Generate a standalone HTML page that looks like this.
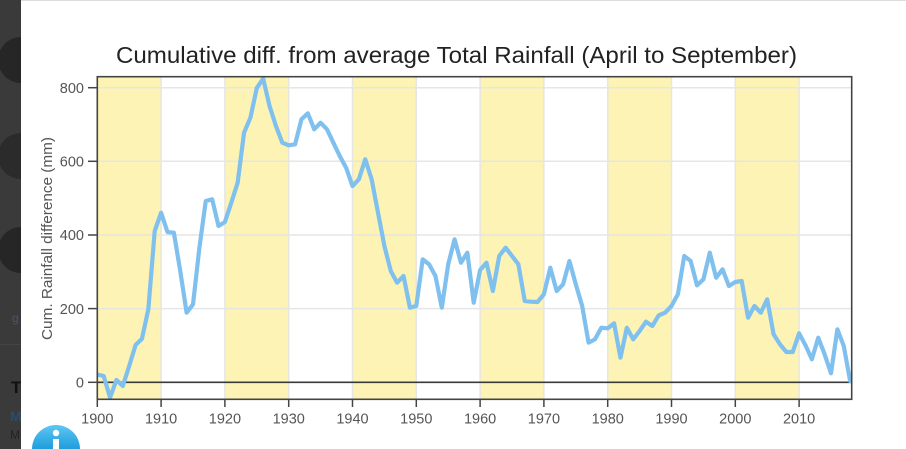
<!DOCTYPE html>
<html>
<head>
<meta charset="utf-8">
<style>
html,body{margin:0;padding:0;background:#fff;width:906px;height:449px;overflow:hidden;}
body{position:relative;font-family:"Liberation Sans",sans-serif;}
svg{position:absolute;left:0;top:0;display:block;overflow:hidden;}
</style>
</head>
<body>
<svg width="906" height="449" viewBox="0 0 906 449" xmlns="http://www.w3.org/2000/svg">
  <defs>
    <linearGradient id="ig" x1="0" y1="0" x2="0" y2="1">
      <stop offset="0" stop-color="#5cc6f3"/>
      <stop offset="1" stop-color="#1f9ddc"/>
    </linearGradient>
    <clipPath id="plotclip"><rect x="97.3" y="76.7" width="754.4" height="322.6"/></clipPath>
  </defs>
  <rect x="0" y="0" width="906" height="449" fill="#ffffff"/>
  <line x1="21" y1="0.5" x2="906" y2="0.5" stroke="#dcdcdc" stroke-width="1"/>

  <!-- left dimmed strip -->
  <rect x="0" y="0" width="21" height="449" fill="#3a3a3a"/>
  <path d="M21,38 A22,22 0 0 0 21,82 Z M11,60 L11,60" fill="#262626"/>
  <path d="M21,37 A23,23 0 0 0 21,83 Z" fill="#262626"/>
  <path d="M21,133 A23,23 0 0 0 21,179 Z" fill="#2b2b2b"/>
  <path d="M21,227 A23,23 0 0 0 21,273 Z" fill="#262626"/>
  <rect x="0" y="344" width="21" height="1" fill="#444"/>
  <text x="12" y="322" font-size="12" fill="#3d5878" font-family="Liberation Sans, sans-serif">g</text>
  <text x="11" y="393" font-size="17" font-weight="bold" fill="#111" font-family="Liberation Sans, sans-serif">T</text>
  <text x="10" y="421" font-size="14" font-weight="bold" fill="#2d4a70" font-family="Liberation Sans, sans-serif">M</text>
  <text x="10" y="439" font-size="12" fill="#222" font-family="Liberation Sans, sans-serif">M</text>
  <rect x="21" y="0" width="885" height="449" fill="#ffffff"/>
  <line x1="21" y1="0.5" x2="906" y2="0.5" stroke="#dcdcdc" stroke-width="1"/>

  <!-- info icon (half circle, clipped at bottom edge) -->
  <path d="M32,449 A24,24 0 0 1 80,449 Z" fill="url(#ig)"/>
  <circle cx="56" cy="433" r="3.2" fill="#fff"/>
  <rect x="53" y="439" width="6" height="10" fill="#fff"/>

  <!-- title -->
  <text x="456.5" y="63" font-size="23.5" fill="#222" text-anchor="middle" textLength="681" lengthAdjust="spacingAndGlyphs" font-family="Liberation Sans, sans-serif">Cumulative diff. from average  Total Rainfall  (April to September)</text>

  <!-- plot background -->
  <rect x="97.3" y="76.7" width="754.4" height="322.6" fill="#ffffff"/>
  <g fill="#fcf3b5">
    <rect x="97.3" y="76.7" width="63.8" height="322.6"/>
    <rect x="224.9" y="76.7" width="63.8" height="322.6"/>
    <rect x="352.5" y="76.7" width="63.8" height="322.6"/>
    <rect x="480.1" y="76.7" width="63.8" height="322.6"/>
    <rect x="607.7" y="76.7" width="63.8" height="322.6"/>
    <rect x="735.3" y="76.7" width="63.8" height="322.6"/>
  </g>

  <!-- grid -->
  <g stroke="#e4e4e4" stroke-width="1.5" opacity="0.9">
    <line x1="97.3" y1="308.6" x2="851.7" y2="308.6"/>
    <line x1="97.3" y1="235.0" x2="851.7" y2="235.0"/>
    <line x1="97.3" y1="161.3" x2="851.7" y2="161.3"/>
    <line x1="97.3" y1="87.7" x2="851.7" y2="87.7"/>
    <line x1="161.1" y1="76.7" x2="161.1" y2="399.3"/>
    <line x1="224.9" y1="76.7" x2="224.9" y2="399.3"/>
    <line x1="288.7" y1="76.7" x2="288.7" y2="399.3"/>
    <line x1="352.5" y1="76.7" x2="352.5" y2="399.3"/>
    <line x1="416.3" y1="76.7" x2="416.3" y2="399.3"/>
    <line x1="480.1" y1="76.7" x2="480.1" y2="399.3"/>
    <line x1="543.9" y1="76.7" x2="543.9" y2="399.3"/>
    <line x1="607.7" y1="76.7" x2="607.7" y2="399.3"/>
    <line x1="671.5" y1="76.7" x2="671.5" y2="399.3"/>
    <line x1="735.3" y1="76.7" x2="735.3" y2="399.3"/>
    <line x1="799.1" y1="76.7" x2="799.1" y2="399.3"/>
  </g>

  <!-- zero line -->
  <line x1="97.3" y1="382.3" x2="851.7" y2="382.3" stroke="#3a3a3a" stroke-width="1.6"/>

  <!-- data series -->
  <polyline clip-path="url(#plotclip)" fill="none" stroke="#7fc0ee" stroke-width="4.2" stroke-linejoin="round" stroke-linecap="round"
    points="97.3,374.5 103.68,376 110.06,397.5 116.44,380 122.82,386 129.2,366 135.58,345 141.96,338.7 148.34,309.3 154.72,231 161.1,212.7 167.48,232 173.86,232.7 180.24,271 186.62,312.7 193.0,304.3 199.38,248 205.76,201 212.14,199.3 218.52,226 224.9,222 231.28,202.7 237.66,182.7 244.04,132.7 250.42,117.7 256.8,88 263.18,78.7 269.56,106 275.94,126 282.32,142.7 288.7,145.3 295.08,144.3 301.46,119.3 307.84,113.3 314.22,129.3 320.6,122.7 326.98,129.3 333.36,142.7 339.74,156 346.12,167.7 352.5,186 358.88,179.3 365.26,159.3 371.64,179.3 378.02,212.7 384.4,246 390.78,271 397.16,282.7 403.54,276 409.92,307.7 416.3,306 422.68,259.3 429.06,264.3 435.44,276 441.82,307.7 448.2,264.3 454.58,239.3 460.96,262.7 467.34,252.7 473.72,302.7 480.1,270 486.48,262.7 492.86,291 499.24,256 505.62,247.7 512.0,256 518.38,264.3 524.76,301 531.14,301.7 537.52,302 543.9,294.3 550.28,267.7 556.66,291 563.04,284.3 569.42,261 575.8,284.3 582.18,306 588.56,342.7 594.94,339.3 601.32,327.7 607.7,328.3 614.08,323.3 620.46,357.7 626.84,327.7 633.22,339.3 639.6,331 645.98,321.7 652.36,326 658.74,315.3 665.12,312.7 671.5,306 677.88,294.3 684.26,256 690.64,261 697.02,285.3 703.4,279.3 709.78,252.7 716.16,277.7 722.54,269.3 728.92,286 735.3,282 741.68,281 748.06,317.7 754.44,306 760.82,312.7 767.2,299.3 773.58,334.3 779.96,344.3 786.34,352 792.72,352 799.1,333.3 805.48,345.3 811.86,359.3 818.24,337.7 824.62,354.3 831.0,373.3 837.38,329.3 843.76,346 850.14,381"/>

  <!-- frame -->
  <rect x="97.3" y="76.7" width="754.4" height="322.6" fill="none" stroke="#444" stroke-width="1.6"/>

  <!-- y ticks -->
  <g stroke="#444" stroke-width="1.5">
    <line x1="88" y1="382.3" x2="97.3" y2="382.3"/>
    <line x1="88" y1="308.6" x2="97.3" y2="308.6"/>
    <line x1="88" y1="235.0" x2="97.3" y2="235.0"/>
    <line x1="88" y1="161.3" x2="97.3" y2="161.3"/>
    <line x1="88" y1="87.7" x2="97.3" y2="87.7"/>
  </g>
  <g font-size="14.5" fill="#555" text-anchor="end" font-family="Liberation Sans, sans-serif">
    <text x="84" y="387.5">0</text>
    <text x="84" y="313.8">200</text>
    <text x="84" y="240.2">400</text>
    <text x="84" y="166.5">600</text>
    <text x="84" y="92.9">800</text>
  </g>

  <!-- x ticks -->
  <g stroke="#444" stroke-width="1.5">
    <line x1="97.3" y1="399.3" x2="97.3" y2="407"/>
    <line x1="161.1" y1="399.3" x2="161.1" y2="407"/>
    <line x1="224.9" y1="399.3" x2="224.9" y2="407"/>
    <line x1="288.7" y1="399.3" x2="288.7" y2="407"/>
    <line x1="352.5" y1="399.3" x2="352.5" y2="407"/>
    <line x1="416.3" y1="399.3" x2="416.3" y2="407"/>
    <line x1="480.1" y1="399.3" x2="480.1" y2="407"/>
    <line x1="543.9" y1="399.3" x2="543.9" y2="407"/>
    <line x1="607.7" y1="399.3" x2="607.7" y2="407"/>
    <line x1="671.5" y1="399.3" x2="671.5" y2="407"/>
    <line x1="735.3" y1="399.3" x2="735.3" y2="407"/>
    <line x1="799.1" y1="399.3" x2="799.1" y2="407"/>
  </g>
  <g font-size="14.5" fill="#555" text-anchor="middle" font-family="Liberation Sans, sans-serif">
    <text x="97.3" y="423.5">1900</text>
    <text x="161.1" y="423.5">1910</text>
    <text x="224.9" y="423.5">1920</text>
    <text x="288.7" y="423.5">1930</text>
    <text x="352.5" y="423.5">1940</text>
    <text x="416.3" y="423.5">1950</text>
    <text x="480.1" y="423.5">1960</text>
    <text x="543.9" y="423.5">1970</text>
    <text x="607.7" y="423.5">1980</text>
    <text x="671.5" y="423.5">1990</text>
    <text x="735.3" y="423.5">2000</text>
    <text x="799.1" y="423.5">2010</text>
  </g>

  <!-- y axis title -->
  <text transform="translate(52,238.5) rotate(-90)" font-size="14.5" fill="#555" text-anchor="middle" textLength="203" lengthAdjust="spacingAndGlyphs" font-family="Liberation Sans, sans-serif">Cum. Rainfall difference (mm)</text>
</svg>
</body>
</html>
